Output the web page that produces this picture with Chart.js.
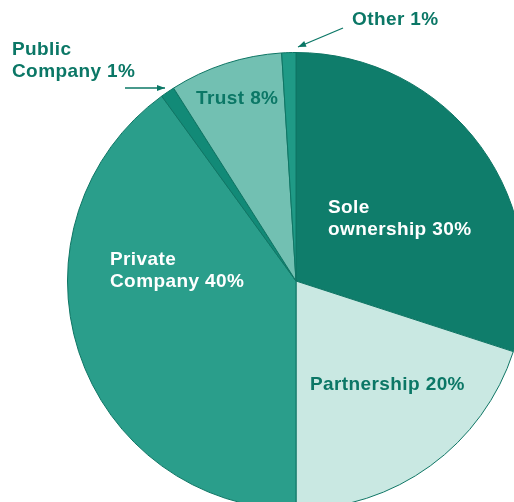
<!DOCTYPE html>
<html>
<head>
<meta charset="utf-8">
<script src="https://cdn.jsdelivr.net/npm/chart.js@4/dist/chart.umd.min.js"></script>
<style>
  html, body { margin: 0; padding: 0; background: #ffffff; overflow: hidden; }
  #wrap { position: absolute; left: 0; top: 0; width: 592px; height: 562px; }
</style>
</head>
<body>
<div id="wrap"><canvas id="c" width="592" height="562"></canvas></div>
<script>
// Business ownership shares, clockwise from 12 o'clock
const categories = ['Sole ownership', 'Partnership', 'Private Company', 'Public Company', 'Trust', 'Other'];
const shares = [30, 20, 40, 1, 8, 1];
const sliceColors = ['#0f7d6b', '#c9e8e2', '#2a9e8b', '#128a77', '#72c0b2', '#1f9a86'];

// Label text per slice (lines), colour and anchor (offset from pie centre)
const labelLines = [
  ['Sole', 'ownership 30%'],
  ['Partnership 20%'],
  ['Private', 'Company 40%'],
  ['Public', 'Company 1%'],
  ['Trust 8%'],
  ['Other 1%']
];
const labelStyle = [
  { color: '#ffffff', dx: 32, dy: -73 },
  { color: '#0b7766', dx: 14, dy: 104 },
  { color: '#ffffff', dx: -186, dy: -21 },
  { color: '#0b7766', dx: -284, dy: -231 },
  { color: '#0b7766', dx: -100, dy: -182 },
  { color: '#0b7766', dx: 56, dy: -261 }
];

const labelPlugin = {
  id: 'sliceLabels',
  afterDatasetsDraw(chart) {
    const ctx = chart.ctx;
    const arc = chart.getDatasetMeta(0).data[0];
    const cx = arc.x, cy = arc.y;
    ctx.save();
    ctx.font = 'bold 19px "Liberation Sans", Arial, sans-serif';
    ctx.letterSpacing = '0.4px';
    ctx.textBaseline = 'middle';
    ctx.textAlign = 'left';
    labelLines.forEach((lines, i) => {
      const s = labelStyle[i];
      ctx.fillStyle = s.color;
      lines.forEach((ln, j) => ctx.fillText(ln, cx + s.dx, cy + s.dy + j * 22));
    });
    ctx.letterSpacing = '0px';

    // pointer arrows for the two thin slices
    const arrow = (x1, y1, x2, y2) => {
      ctx.strokeStyle = '#0b7766';
      ctx.fillStyle = '#0b7766';
      ctx.lineWidth = 1.3;
      ctx.beginPath();
      ctx.moveTo(x1, y1);
      ctx.lineTo(x2, y2);
      ctx.stroke();
      const a = Math.atan2(y2 - y1, x2 - x1);
      const L = 8, W = 3;
      ctx.beginPath();
      ctx.moveTo(x2, y2);
      ctx.lineTo(x2 - L * Math.cos(a) + W * Math.sin(a), y2 - L * Math.sin(a) - W * Math.cos(a));
      ctx.lineTo(x2 - L * Math.cos(a) - W * Math.sin(a), y2 - L * Math.sin(a) + W * Math.cos(a));
      ctx.closePath();
      ctx.fill();
    };
    arrow(cx - 171, cy - 193, cx - 131, cy - 193);
    arrow(cx + 47, cy - 253, cx + 2, cy - 234);
    ctx.restore();
  }
};

new Chart(document.getElementById('c'), {
  type: 'pie',
  data: {
    labels: categories,
    datasets: [{
      data: shares,
      backgroundColor: sliceColors,
      borderColor: '#0e7564',
      borderWidth: 1
    }]
  },
  options: {
    responsive: false,
    animation: false,
    layout: { padding: { top: 52, bottom: 52, left: 67, right: 67 } },
    plugins: {
      legend: { display: false },
      tooltip: { enabled: false }
    }
  },
  plugins: [labelPlugin]
});
</script>
</body>
</html>
